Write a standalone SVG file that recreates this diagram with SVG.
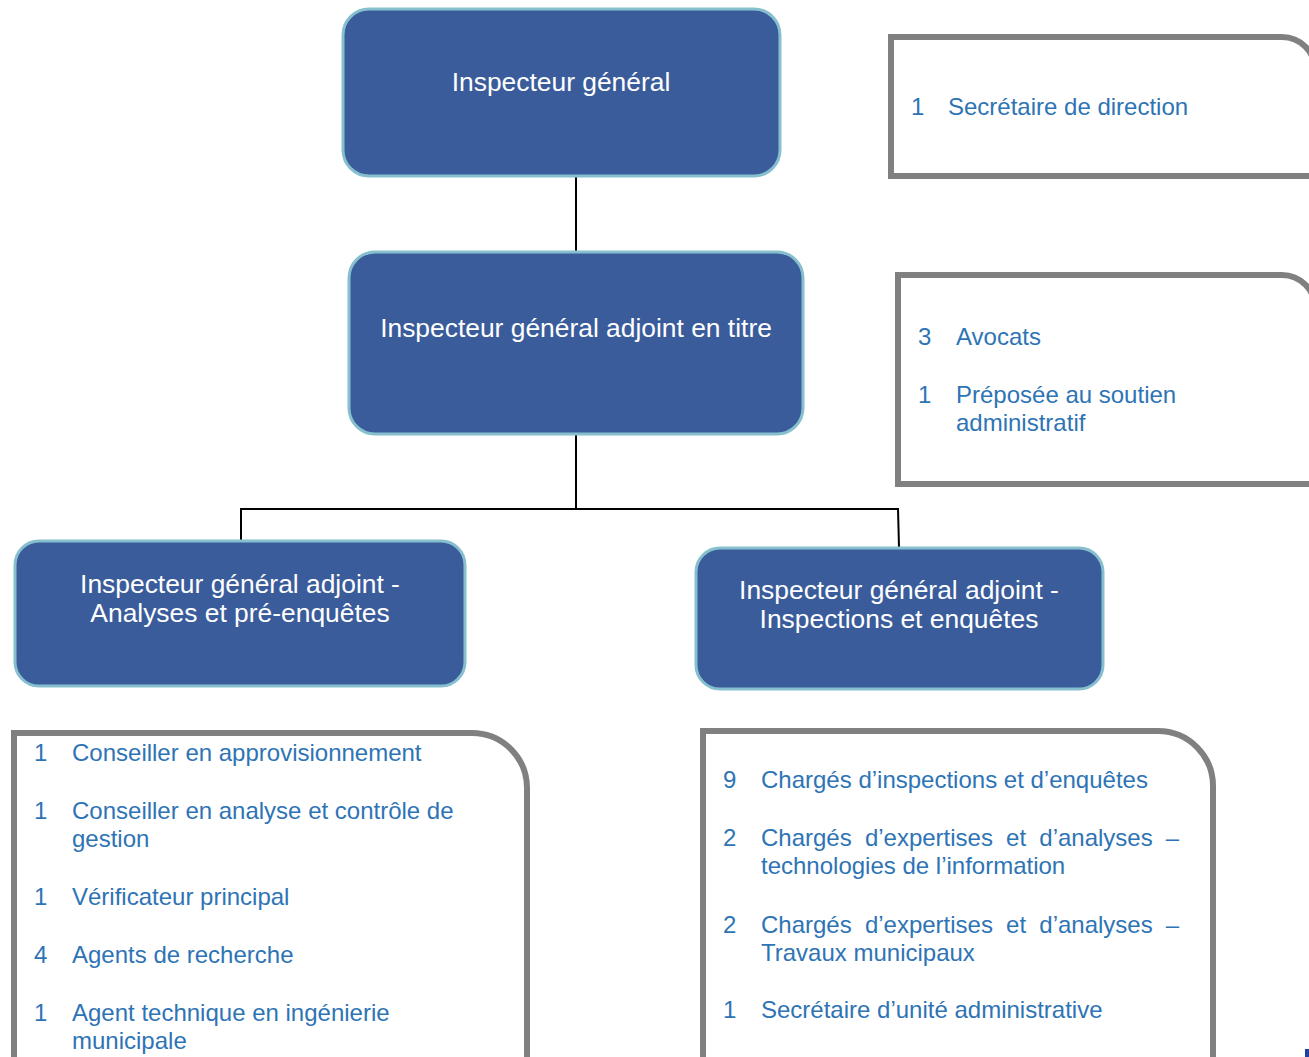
<svg xmlns="http://www.w3.org/2000/svg" width="1309" height="1057" viewBox="0 0 1309 1057">
<style>
.node{fill:#3A5C9B;stroke:#86C0CF;stroke-width:3}
.hd{font-family:"Liberation Sans",Arial,sans-serif;font-size:26.4px;fill:#FFFFFF;text-anchor:middle}
.panel{fill:#FFFFFF;stroke:#808080;stroke-width:6}
.it{font-family:"Liberation Sans",Arial,sans-serif;font-size:24px;fill:#2E74B5}
.conn{fill:none;stroke:#000000;stroke-width:2}
</style>
<rect width="1309" height="1057" fill="#FFFFFF"/>
<g id="connectors">
<line class="conn" x1="576" y1="177" x2="576" y2="251"/>
<polyline class="conn" points="576,435 576,509 241,509 241,540"/>
<polyline class="conn" points="576,509 898,509 899,547"/>
</g>
<g id="inspecteur-general">
<rect class="node" x="343" y="9" width="437" height="167" rx="26"/>
<text class="hd" x="561" y="91">Inspecteur général</text>
</g>
<g id="adjoint-titre">
<rect class="node" x="349" y="252" width="454" height="182" rx="26"/>
<text class="hd" x="576" y="337">Inspecteur général adjoint en titre</text>
</g>
<g id="adjoint-analyses">
<rect class="node" x="15" y="541" width="450" height="145" rx="24"/>
<text class="hd" x="240" y="593">Inspecteur général adjoint -</text>
<text class="hd" x="240" y="622">Analyses et pré-enquêtes</text>
</g>
<g id="adjoint-inspections">
<rect class="node" x="696" y="548" width="407" height="141" rx="24"/>
<text class="hd" x="899" y="599">Inspecteur général adjoint -</text>
<text class="hd" x="899" y="628">Inspections et enquêtes</text>
</g>
<g id="secretaire-direction">
<path class="panel" d="M891,176 V37 H1282 A33,33 0 0 1 1315,70 V176 Z"/>
<text class="it" x="911" y="115">1</text>
<text class="it" x="948" y="115">Secrétaire de direction</text>
</g>
<g id="avocats">
<path class="panel" d="M898,484 V275 H1282 A33,33 0 0 1 1315,308 V484 Z"/>
<text class="it" x="918" y="345">3</text>
<text class="it" x="956" y="345">Avocats</text>
<text class="it" x="918" y="403">1</text>
<text class="it" x="956" y="403">Préposée au soutien</text>
<text class="it" x="956" y="431">administratif</text>
</g>
<g id="equipe-analyses">
<path class="panel" d="M14,1065 V733 H472 A55,55 0 0 1 527,788 V1065"/>
<text class="it" x="34" y="761">1</text>
<text class="it" x="72" y="761">Conseiller en approvisionnement</text>
<text class="it" x="34" y="819">1</text>
<text class="it" x="72" y="819">Conseiller en analyse et contrôle de</text>
<text class="it" x="72" y="847">gestion</text>
<text class="it" x="34" y="905">1</text>
<text class="it" x="72" y="905">Vérificateur principal</text>
<text class="it" x="34" y="963">4</text>
<text class="it" x="72" y="963">Agents de recherche</text>
<text class="it" x="34" y="1021">1</text>
<text class="it" x="72" y="1021">Agent technique en ingénierie</text>
<text class="it" x="72" y="1049">municipale</text>
</g>
<g id="equipe-inspections">
<path class="panel" d="M703,1065 V731 H1158 A55,55 0 0 1 1213,786 V1065"/>
<text class="it" x="723" y="788">9</text>
<text class="it" x="761" y="788">Chargés d’inspections et d’enquêtes</text>
<text class="it" x="723" y="846">2</text>
<text class="it" x="761" y="846" word-spacing="6.5">Chargés d’expertises et d’analyses –</text>
<text class="it" x="761" y="874">technologies de l’information</text>
<text class="it" x="723" y="933">2</text>
<text class="it" x="761" y="933" word-spacing="6.5">Chargés d’expertises et d’analyses –</text>
<text class="it" x="761" y="961">Travaux municipaux</text>
<text class="it" x="723" y="1018">1</text>
<text class="it" x="761" y="1018">Secrétaire d’unité administrative</text>
</g>
<rect x="1305" y="1049" width="4" height="8" fill="#22409E"/>
</svg>
